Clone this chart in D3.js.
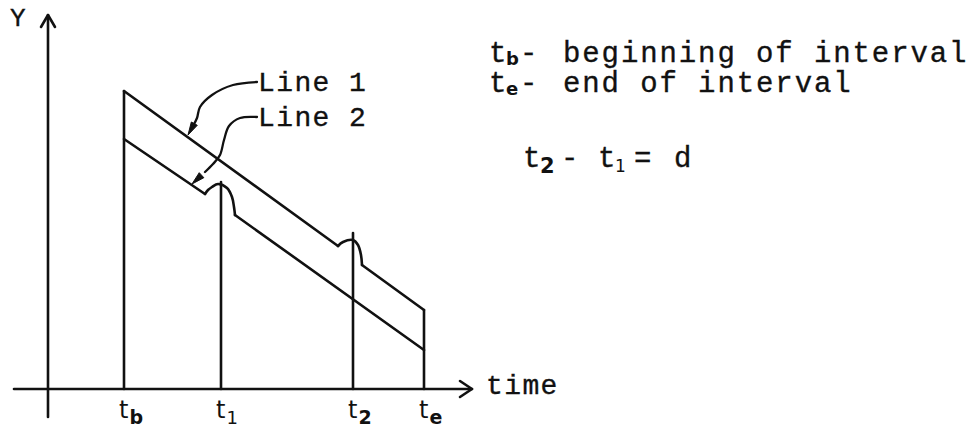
<!DOCTYPE html>
<html>
<head>
<meta charset="utf-8">
<script src="https://cdn.jsdelivr.net/npm/d3@7/dist/d3.min.js"></script>
<style>
  html, body { margin: 0; padding: 0; background: #fff; }
  svg { display: block; }
  .mono { font-family: "Liberation Mono", "DejaVu Sans Mono", monospace; fill: #111; stroke: #111; stroke-width: 0.35px; letter-spacing: 1.4px; }
  .wide { letter-spacing: 1.9px; }
  .hand { font-family: "DejaVu Sans", "Noto Sans", sans-serif; fill: #111; }
</style>
</head>
<body>
<svg id="chart" width="980" height="428"></svg>
<script>
// Interval marks on the time axis (arbitrary time units)
const tickNames = ["b", "1", "2", "e"];
const tickTimes = [7.6, 17.3, 30.5, 37.6];
const tickTops  = [29.8, 20.7, 15.6, 7.9];   // how high each vertical mark reaches

// Line 1: straight run, a small bump at t2, then straight to te
const line1Start = [[7.6, 29.8], [29.0, 14.3]];
const line1Bump  = [[29.0, 14.3], [29.5, 14.7], [30.5, 14.9], [31.0, 14.4], [31.3, 13.4], [31.4, 12.4]];
const line1End   = [[31.4, 12.4], [37.6, 7.9]];

// Line 2: straight run, a small bump at t1, then straight to te
const line2Start = [[7.6, 25.0], [15.7, 19.5]];
const line2Bump  = [[15.7, 19.5], [16.0, 19.9], [16.4, 20.2], [17.0, 20.5], [17.9, 20.1], [18.4, 19.2], [18.6, 18.2], [18.7, 17.4]];
const line2End   = [[18.7, 17.4], [37.6, 3.9]];

// Curved leaders from the labels to the lines
const leader1 = [[20.9, 30.7], [18.5, 30.4], [16.4, 29.4], [15.2, 28.2], [14.9, 27.1], [14.5, 26.3], [14.0, 25.4]];
const leader2 = [[20.9, 27.2], [19.2, 27.1], [18.1, 26.3], [17.6, 24.9], [17.2, 23.4], [16.5, 22.5], [15.7, 21.7], [14.4, 20.5]];

const svg = d3.select("#chart");
const x = d3.scaleLinear().domain([0, 42.4]).range([48, 472]);
const y = d3.scaleLinear().domain([0, 37.4]).range([389, 15]);

const ink = "#111";
const sw = 2.6;

const straight = d3.line().x(d => x(d[0])).y(d => y(d[1])).curve(d3.curveLinear);
const smooth = d3.line().x(d => x(d[0])).y(d => y(d[1])).curve(d3.curveCatmullRom.alpha(0.5));

function stroke(sel) {
  return sel.attr("fill", "none").attr("stroke", ink).attr("stroke-width", sw)
            .attr("stroke-linejoin", "round").attr("stroke-linecap", "round");
}

// Axes
const g = svg.append("g");
stroke(g.append("line")).attr("x1", x(-3.4)).attr("x2", x(42.4)).attr("y1", y(0)).attr("y2", y(0));
stroke(g.append("line")).attr("x1", x(0)).attr("x2", x(0)).attr("y1", y(-2.8)).attr("y2", y(37.4));
// open arrow heads
stroke(g.append("path")).attr("d", d3.line()([[x(42.4) - 12, y(0) - 8], [x(42.4), y(0)], [x(42.4) - 12, y(0) + 8]]));
stroke(g.append("path")).attr("d", d3.line()([[x(0) - 7, y(37.4) + 12], [x(0), y(37.4)], [x(0) + 7, y(37.4) + 12]]));

// Vertical interval marks
tickTimes.forEach((t, i) => {
  stroke(g.append("line")).attr("x1", x(t)).attr("x2", x(t)).attr("y1", y(0)).attr("y2", y(tickTops[i]));
});

// The two lines
[line1Start, line1End, line2Start, line2End].forEach(seg => stroke(g.append("path")).attr("d", straight(seg)));
[line1Bump, line2Bump].forEach(seg => stroke(g.append("path")).attr("d", smooth(seg)));

// Leaders with filled arrow heads
function leader(pts) {
  stroke(g.append("path")).attr("d", smooth(pts.slice(0, -1))).attr("stroke-width", 2.3);
  const a = pts[pts.length - 2], b = pts[pts.length - 1];
  const ax = x(a[0]), ay = y(a[1]), bx = x(b[0]), by = y(b[1]);
  const ang = Math.atan2(by - ay, bx - ax);
  const len = 13, half = 3.4;
  const bxs = bx - len * Math.cos(ang), bys = by - len * Math.sin(ang);
  const px = -Math.sin(ang) * half, py = Math.cos(ang) * half;
  g.append("path")
    .attr("d", d3.line()([[bx, by], [bxs + px, bys + py], [bxs - px, bys - py]]) + "Z")
    .attr("fill", ink).attr("stroke", ink).attr("stroke-width", 1);
}
leader(leader1);
leader(leader2);

// Line labels
svg.append("text").attr("class", "mono").attr("x", 258).attr("y", 91).attr("font-size", 28).text("Line 1");
svg.append("text").attr("class", "mono").attr("x", 258).attr("y", 126).attr("font-size", 28).text("Line 2");

// Axis titles
svg.append("text").attr("class", "mono").attr("x", 10).attr("y", 26).attr("font-size", 26).text("Y");
svg.append("text").attr("class", "mono").attr("x", 486).attr("y", 394).attr("font-size", 28).text("time");

// Tick labels: t with a bold subscript
tickTimes.forEach((t, i) => {
  const tx = x(t) - 5;
  const lab = svg.append("text").attr("class", "hand").attr("x", tx).attr("y", 418).attr("font-size", 24);
  lab.append("tspan").text("t");
  lab.append("tspan").attr("dy", 6).attr("font-size", tickNames[i] === "1" ? 18 : 19)
     .attr("font-weight", tickNames[i] === "1" ? "normal" : "bold").attr("dx", 1).text(tickNames[i]);
});

// Legend of symbols
function symbolLine(x0, yb, sub, rest, restX) {
  svg.append("text").attr("class", "mono").attr("x", x0).attr("y", yb).attr("font-size", 29).text("t");
  svg.append("text").attr("class", "hand").attr("x", x0 + 17).attr("y", yb + 3)
     .attr("font-size", 18).attr("font-weight", "bold").text(sub);
  svg.append("text").attr("class", "mono").attr("x", x0 + 31).attr("y", yb).attr("font-size", 29).text("-");
  svg.append("text").attr("class", "mono wide").attr("x", restX).attr("y", yb).attr("font-size", 29).text(rest);
}
symbolLine(489, 62, "b", "beginning of interval", 563);
symbolLine(489, 92, "e", "end of interval", 563);

// t2 - t1 = d
const eq = svg.append("g");
eq.append("text").attr("class", "mono").attr("x", 523).attr("y", 167).attr("font-size", 29).text("t");
eq.append("text").attr("class", "hand").attr("x", 540).attr("y", 173).attr("font-size", 21).attr("font-weight", "bold").text("2");
eq.append("text").attr("class", "mono").attr("x", 561).attr("y", 167).attr("font-size", 29).text("-");
eq.append("text").attr("class", "mono").attr("x", 598).attr("y", 167).attr("font-size", 29).text("t");
eq.append("text").attr("class", "hand").attr("x", 615).attr("y", 172).attr("font-size", 17).text("1");
eq.append("text").attr("class", "mono").attr("x", 634).attr("y", 167).attr("font-size", 29).text("=");
eq.append("text").attr("class", "mono").attr("x", 674).attr("y", 167).attr("font-size", 29).text("d");
</script>
</body>
</html>
